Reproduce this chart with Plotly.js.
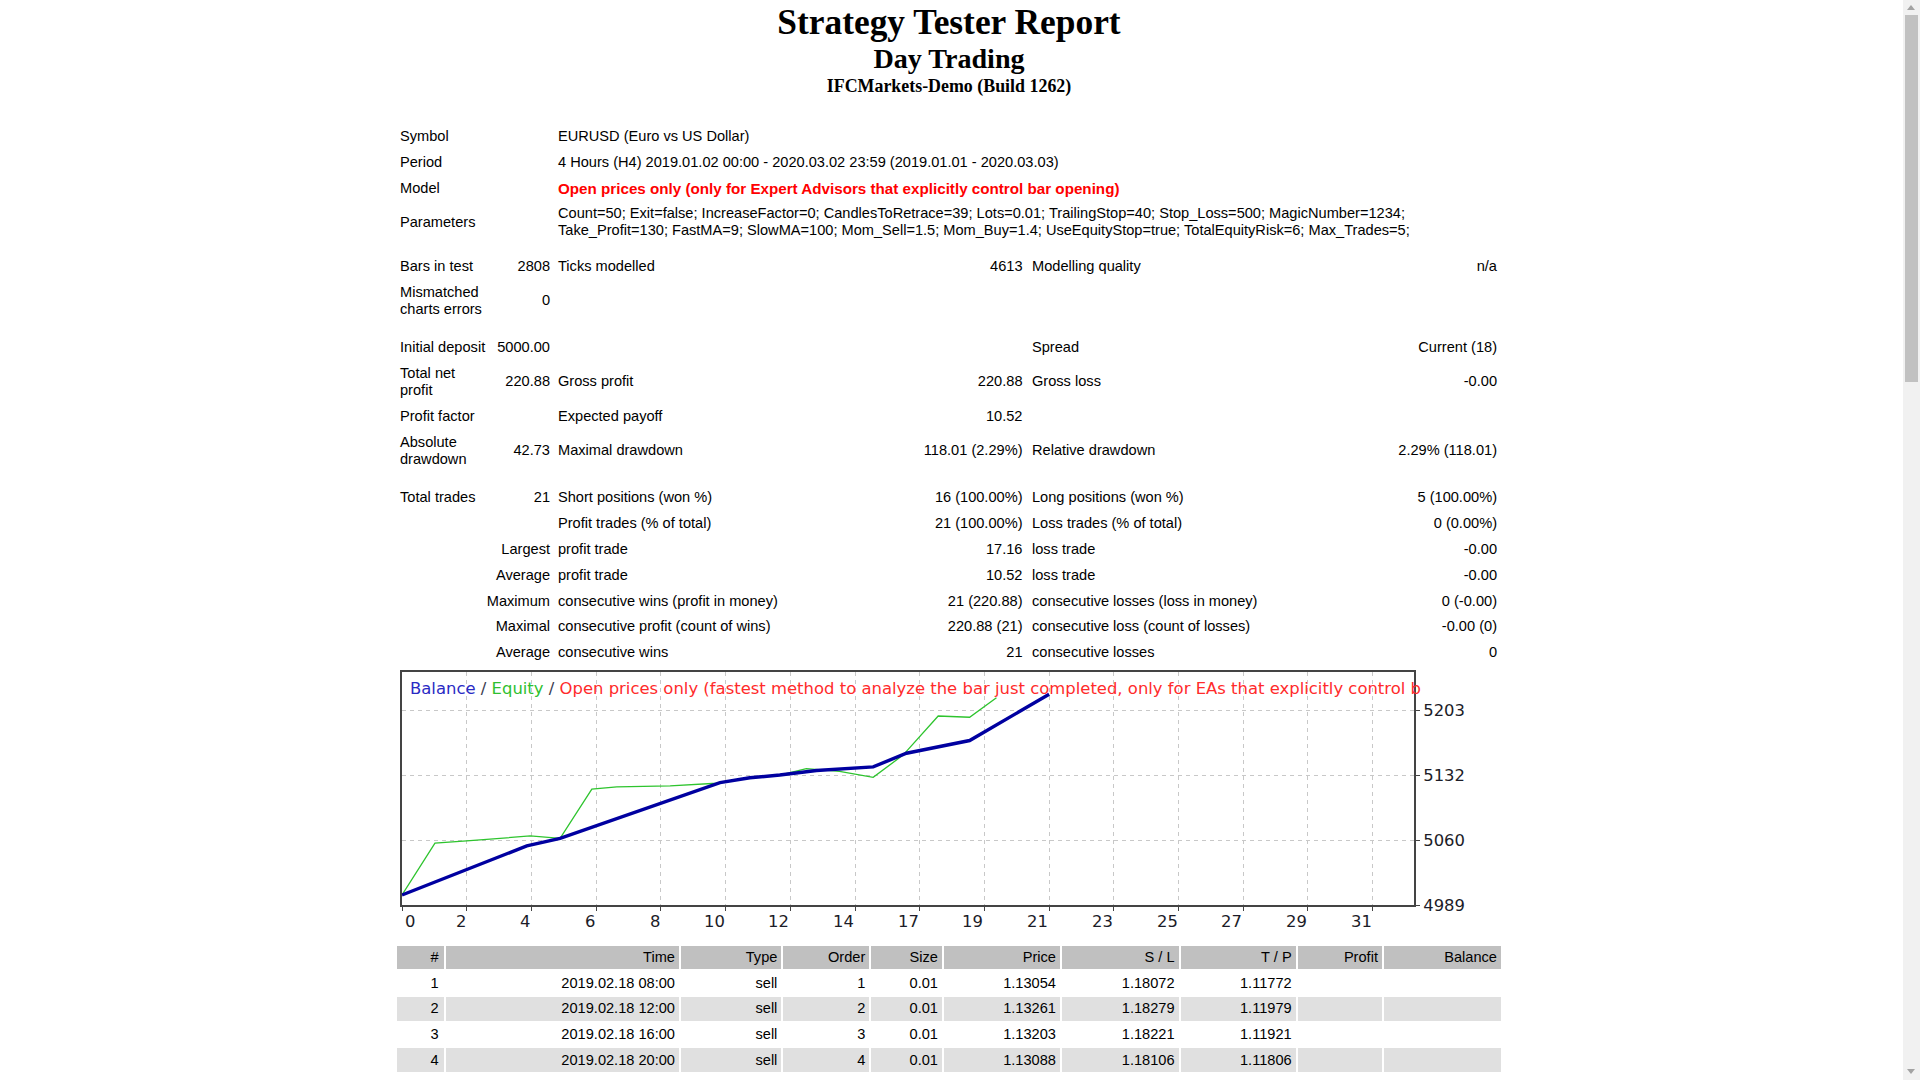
<!DOCTYPE html>
<html>
<head>
<meta charset="utf-8">
<script src="https://cdn.plot.ly/plotly-3.0.1.min.js"></script>
<style>
  html, body { margin: 0; padding: 0; background: #fff; }
  body { width: 1920px; height: 1080px; overflow: hidden; position: relative;
         font-family: 'Liberation Sans', Arial, sans-serif; font-size: 14.6px; color: #000; }
  .ttl { position: absolute; left: 0; width: 1898px; text-align: center;
         font-family: 'Liberation Serif', 'Times New Roman', serif; font-weight: bold; white-space: nowrap; }
  #summary { position: absolute; left: 397px; top: 123.6px; border-collapse: collapse;
             table-layout: fixed; width: 1103px; }
  #summary td { padding: 0 3px; height: 25.8px; line-height: 17px; vertical-align: middle;
                box-sizing: border-box; white-space: nowrap; overflow: visible; }
  #summary tr.two td { height: 43px; }
  #summary td.r { text-align: right; }
  #summary td.c3 { padding-left: 5px; }
  #summary td.c4 { padding-right: 3.5px; }
  #summary td.c5 { padding-left: 6px; }
  #summary td.wrap { white-space: normal; }
  .red { color: #ff0000; font-weight: bold; font-size: 15.2px; }
  #chart { position: absolute; left: 380px; top: 650px; width: 1140px; height: 300px; }
  #orders { position: absolute; left: 395px; top: 943.5px; border-collapse: separate;
            border-spacing: 2px 2px; table-layout: fixed; }
  #orders td { height: 23.7px; padding: 0 4px 0 0; text-align: right; box-sizing: border-box;
               white-space: nowrap; line-height: 17px; }
  #orders tr.hdr td { background: #c0c0c0; }
  #orders tr.alt td { background: #e0e0e0; }
  #scroll { position: absolute; left: 1903px; top: 0; width: 17px; height: 1080px; background: #f1f1f1; }
  #thumb { position: absolute; left: 2px; top: 15px; width: 13px; height: 367px; background: #c1c1c1; }
  .arr { position: absolute; left: 4px; width: 0; height: 0; border-left: 4.5px solid transparent;
         border-right: 4.5px solid transparent; }
</style>
</head>
<body>

<div class="ttl" style="top:4px;font-size:35.4px;line-height:36px;">Strategy Tester Report</div>
<div class="ttl" style="top:45px;font-size:28.1px;line-height:28px;">Day Trading</div>
<div class="ttl" style="top:77px;font-size:17.9px;line-height:18px;">IFCMarkets-Demo (Build 1262)</div>

<table id="summary">
  <colgroup>
    <col style="width:94px"><col style="width:62px"><col style="width:349px">
    <col style="width:124px"><col style="width:344px"><col style="width:130px">
  </colgroup>
  <tr><td>Symbol</td><td></td><td class="c3" colspan="4">EURUSD (Euro vs US Dollar)</td></tr>
  <tr><td>Period</td><td></td><td class="c3" colspan="4">4 Hours (H4) 2019.01.02 00:00 - 2020.03.02 23:59 (2019.01.01 - 2020.03.03)</td></tr>
  <tr><td>Model</td><td></td><td class="c3 red" colspan="4">Open prices only (only for Expert Advisors that explicitly control bar opening)</td></tr>
  <tr class="two"><td>Parameters</td><td></td><td class="c3" colspan="4">Count=50; Exit=false; IncreaseFactor=0; CandlesToRetrace=39; Lots=0.01; TrailingStop=40; Stop_Loss=500; MagicNumber=1234;<br>Take_Profit=130; FastMA=9; SlowMA=100; Mom_Sell=1.5; Mom_Buy=1.4; UseEquityStop=true; TotalEquityRisk=6; Max_Trades=5;</td></tr>
  <tr><td colspan="6" style="height:9.7px"></td></tr>
  <tr><td>Bars in test</td><td class="r">2808</td><td class="c3">Ticks modelled</td><td class="r c4">4613</td><td class="c5">Modelling quality</td><td class="r">n/a</td></tr>
  <tr class="two"><td class="wrap">Mismatched charts errors</td><td class="r">0</td><td></td><td></td><td></td><td></td></tr>
  <tr><td colspan="6" style="height:12px"></td></tr>
  <tr><td>Initial deposit</td><td class="r">5000.00</td><td></td><td></td><td class="c5">Spread</td><td class="r">Current (18)</td></tr>
  <tr class="two"><td class="wrap">Total net profit</td><td class="r">220.88</td><td class="c3">Gross profit</td><td class="r c4">220.88</td><td class="c5">Gross loss</td><td class="r">-0.00</td></tr>
  <tr><td>Profit factor</td><td></td><td class="c3">Expected payoff</td><td class="r c4">10.52</td><td></td><td></td></tr>
  <tr class="two"><td class="wrap">Absolute drawdown</td><td class="r">42.73</td><td class="c3">Maximal drawdown</td><td class="r c4">118.01 (2.29%)</td><td class="c5">Relative drawdown</td><td class="r">2.29% (118.01)</td></tr>
  <tr><td colspan="6" style="height:13px"></td></tr>
  <tr><td>Total trades</td><td class="r">21</td><td class="c3">Short positions (won %)</td><td class="r c4">16 (100.00%)</td><td class="c5">Long positions (won %)</td><td class="r">5 (100.00%)</td></tr>
  <tr><td></td><td></td><td class="c3">Profit trades (% of total)</td><td class="r c4">21 (100.00%)</td><td class="c5">Loss trades (% of total)</td><td class="r">0 (0.00%)</td></tr>
  <tr><td class="r" colspan="2">Largest</td><td class="c3">profit trade</td><td class="r c4">17.16</td><td class="c5">loss trade</td><td class="r">-0.00</td></tr>
  <tr><td class="r" colspan="2">Average</td><td class="c3">profit trade</td><td class="r c4">10.52</td><td class="c5">loss trade</td><td class="r">-0.00</td></tr>
  <tr><td class="r" colspan="2">Maximum</td><td class="c3">consecutive wins (profit in money)</td><td class="r c4">21 (220.88)</td><td class="c5">consecutive losses (loss in money)</td><td class="r">0 (-0.00)</td></tr>
  <tr><td class="r" colspan="2">Maximal</td><td class="c3">consecutive profit (count of wins)</td><td class="r c4">220.88 (21)</td><td class="c5">consecutive loss (count of losses)</td><td class="r">-0.00 (0)</td></tr>
  <tr><td class="r" colspan="2">Average</td><td class="c3">consecutive wins</td><td class="r c4">21</td><td class="c5">consecutive losses</td><td class="r">0</td></tr>
</table>

<div id="chart"></div>

<table id="orders"></table>

<div id="scroll">
  <div class="arr" style="top:5px;border-bottom:5px solid #a3a3a3;"></div>
  <div id="thumb"></div>
  <div class="arr" style="top:1069px;border-top:5px solid #a3a3a3;"></div>
</div>

<script>
// balance / equity curve
const xTickLabels = [0, 2, 4, 6, 8, 10, 12, 14, 17, 19, 21, 23, 25, 27, 29, 31];
const yTickValues = [4989, 5060, 5132, 5203];

const balanceX = [0, 4.05, 5.13, 10.32, 11.29, 12.26, 13.45, 15.29, 16.37, 18.42, 21.0];
const balanceY = [5000, 5054, 5062.4, 5123.6, 5129, 5132, 5137, 5141, 5156, 5170, 5220.88];

const equityX = [0, 1.07, 2.1, 4.16, 5.13, 6.16, 6.97, 8.7, 10.2, 11.29, 12.26, 13.12, 14.2, 15.29, 16.26, 17.4, 18.42, 19.29];
const equityY = [5000, 5057, 5059.5, 5065, 5062.4, 5116.6, 5119, 5120, 5123, 5129.5, 5132, 5139, 5136, 5129.5, 5154, 5197, 5195.6, 5217];

// orders list (first rows visible)
const orderNo = [1, 2, 3, 4];
const orderTime = ["2019.02.18 08:00", "2019.02.18 12:00", "2019.02.18 16:00", "2019.02.18 20:00"];
const orderType = ["sell", "sell", "sell", "sell"];
const orderTicket = [1, 2, 3, 4];
const orderSize = ["0.01", "0.01", "0.01", "0.01"];
const orderPrice = ["1.13054", "1.13261", "1.13203", "1.13088"];
const orderSL = ["1.18072", "1.18279", "1.18221", "1.18106"];
const orderTP = ["1.11772", "1.11979", "1.11921", "1.11806"];
const orderHeader = ["#", "Time", "Type", "Order", "Size", "Price", "S / L", "T / P", "Profit", "Balance"];

const gridStep = 2.1; // axis units between vertical grid lines
const colWidths = [46.6, 233.4, 100.4, 85.9, 70.7, 116, 116.6, 115.1, 84.3, 117];

// ---- orders table
var tbl = document.getElementById("orders");
var html = "<colgroup>" + colWidths.map(w => '<col style="width:' + w + 'px">').join("") + "</colgroup>";
html += '<tr class="hdr">' + orderHeader.map((h, i) =>
  '<td' + (i == 0 ? ' style="padding-right:5px"' : '') + '>' + h + '</td>').join("") + "</tr>";
for (let i = 0; i < orderNo.length; i++) {
  var cells = [orderNo[i], orderTime[i], orderType[i], orderTicket[i], orderSize[i],
               orderPrice[i], orderSL[i], orderTP[i], "", ""];
  html += '<tr' + (i % 2 == 1 ? ' class="alt"' : '') + '>' + cells.map((c, j) =>
    '<td' + (j == 0 ? ' style="padding-right:5px"' : '') + '>' + c + '</td>').join("") + "</tr>";
}
tbl.innerHTML = html;

// ---- graph
var gridVals = xTickLabels.map((v, i) => i * gridStep);

var trace1 = {
  x: equityX,
  y: equityY,
  mode: "lines",
  type: "scatter",
  line: { color: "#2ec42e", width: 1.3 },
  hoverinfo: "skip",
};

var trace2 = {
  x: balanceX,
  y: balanceY,
  mode: "lines",
  type: "scatter",
  line: { color: "#0000a0", width: 3.4 },
  hoverinfo: "skip",
};

var labelFont = { family: "DejaVu Sans", size: 16.4, color: "#1c1c28" };

var annotations = xTickLabels.map((lab, i) => ({
  x: gridVals[i],
  xref: "x",
  y: 0,
  yref: "paper",
  yanchor: "middle",
  yshift: -16,
  xanchor: i == 0 ? "left" : "right",
  xshift: 1,
  text: String(lab),
  showarrow: false,
  font: labelFont,
}));

annotations.push({
  x: 0,
  xref: "paper",
  xanchor: "left",
  xshift: 6,
  y: 1,
  yref: "paper",
  yanchor: "middle",
  yshift: -16.5,
  showarrow: false,
  align: "left",
  font: { family: "DejaVu Sans", size: 16.45, color: "#ff2b2b" },
  text: '<span style="color:#2a2ac4">Balance</span><span style="color:#3a3a50"> / </span>' +
        '<span style="color:#2fbf2f">Equity</span><span style="color:#3a3a50"> / </span>' +
        'Open prices only (fastest method to analyze the bar just completed, only for EAs that explicitly control b',
});

var layout = {
  width: 1140,
  height: 300,
  margin: { l: 22, r: 106, t: 22, b: 45, pad: 0 },
  paper_bgcolor: "rgba(0,0,0,0)",
  plot_bgcolor: "#ffffff",
  showlegend: false,
  xaxis: {
    range: [0, 32.84],
    tickvals: gridVals,
    showticklabels: false,
    ticks: "outside",
    ticklen: 4,
    tickcolor: "#444",
    showgrid: true,
    gridcolor: "#c8c8c8",
    griddash: "4px,4px",
    gridwidth: 1,
    showline: true,
    linecolor: "#444",
    linewidth: 2,
    mirror: true,
    zeroline: false,
  },
  yaxis: {
    range: [4989, 5245.4],
    side: "right",
    tickvals: yTickValues,
    ticks: "outside",
    ticklen: 4,
    tickcolor: "#444",
    tickfont: labelFont,
    showgrid: true,
    gridcolor: "#c8c8c8",
    griddash: "4px,4px",
    gridwidth: 1,
    showline: true,
    linecolor: "#444",
    linewidth: 2,
    mirror: true,
    zeroline: false,
  },
  annotations: annotations,
};

Plotly.newPlot("chart", [trace1, trace2], layout, { staticPlot: true, displayModeBar: false });
</script>
</body>
</html>
